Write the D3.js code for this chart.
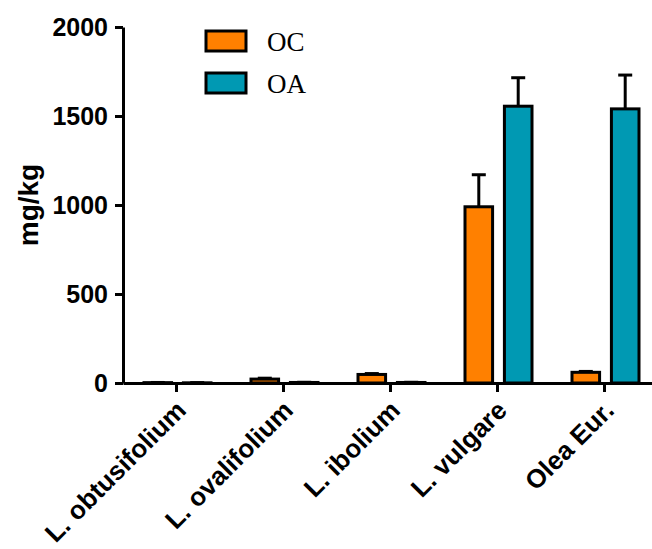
<!DOCTYPE html>
<html>
<head>
<meta charset="utf-8">
<script src="https://cdn.jsdelivr.net/npm/d3@7"></script>
<style>
  body { margin: 0; background: #fff; }
  svg { display: block; }
</style>
</head>
<body>
<div id="chart"></div>
<script>
// data
const categories = ['L. obtusifolium', 'L. ovalifolium', 'L. ibolium', 'L. vulgare', 'Olea Eur.'];
const seriesNames = ['OC', 'OA'];
const ocValues = [2, 22, 48, 990, 60];
const ocErrors = [1, 5, 5, 180, 5];
const oaValues = [1, 3, 3, 1555, 1540];
const oaErrors = [1, 1, 1, 160, 190];
const yTicks = [0, 500, 1000, 1500, 2000];

const colors = { OC: '#FF8000', OA: '#0099B3' };

const width = 652, height = 549;
const margin = { top: 27, right: -6, bottom: 166, left: 123 };

const svg = d3.select('#chart').append('svg')
  .attr('width', width)
  .attr('height', height);

const g = svg.append('g')
  .attr('transform', `translate(${margin.left},${margin.top})`);

const innerW = width - margin.left - margin.right;
const innerH = height - margin.top - margin.bottom;

const x0 = d3.scaleBand().domain(categories).range([0, innerW]).paddingInner(0).paddingOuter(0);
const x1 = d3.scaleBand().domain(seriesNames).range([21, x0.bandwidth() - 19]).paddingInner(0.3);
const y = d3.scaleLinear().domain([0, 2000]).range([innerH, 0]);

const rows = categories.map((c, i) => ({
  cat: c,
  vals: [
    { key: 'OC', v: ocValues[i], e: ocErrors[i] },
    { key: 'OA', v: oaValues[i], e: oaErrors[i] }
  ]
}));

const groups = g.selectAll('.grp').data(rows).enter().append('g')
  .attr('transform', d => `translate(${x0(d.cat)},0)`);

// error bars (drawn first, bar covers lower half)
groups.selectAll('.err').data(d => d.vals).enter().append('g').each(function(d) {
  const cx = x1(d.key) + x1.bandwidth() / 2;
  const el = d3.select(this);
  el.append('line')
    .attr('x1', cx).attr('x2', cx)
    .attr('y1', y(d.v)).attr('y2', y(d.v + d.e))
    .attr('stroke', '#000').attr('stroke-width', 3);
  el.append('line')
    .attr('x1', cx - 7).attr('x2', cx + 7)
    .attr('y1', y(d.v + d.e)).attr('y2', y(d.v + d.e))
    .attr('stroke', '#000').attr('stroke-width', 3);
});

groups.selectAll('.bar').data(d => d.vals).enter().append('rect')
  .attr('x', d => x1(d.key))
  .attr('width', x1.bandwidth())
  .attr('y', d => y(d.v))
  .attr('height', d => innerH - y(d.v))
  .attr('fill', d => colors[d.key])
  .attr('stroke', '#000')
  .attr('stroke-width', 3);

const sans = 'Liberation Sans, Arial, sans-serif';

// y axis
const yAxis = g.append('g')
  .call(d3.axisLeft(y).tickValues(yTicks).tickFormat(d3.format('d')).tickSize(8).tickSizeOuter(0));
yAxis.select('.domain').attr('stroke-width', 3);
yAxis.selectAll('.tick line').attr('stroke-width', 3);
yAxis.selectAll('.tick text')
  .style('font-family', sans)
  .style('font-weight', 'bold')
  .style('font-size', '25px')
  .attr('fill', '#000')
  .attr('x', -15);

// x axis
const xAxis = g.append('g')
  .attr('transform', `translate(0,${innerH})`)
  .call(d3.axisBottom(x0).tickSize(9).tickSizeOuter(0));
xAxis.select('.domain').attr('stroke-width', 3);
xAxis.selectAll('.tick line').attr('stroke-width', 3);
xAxis.selectAll('.tick text')
  .style('font-family', sans)
  .style('font-weight', 'bold')
  .style('font-size', '26px')
  .attr('fill', '#000')
  .attr('text-anchor', 'end')
  .attr('y', 0).attr('dy', 0)
  .attr('transform', 'translate(11,29) rotate(-45)');

// y label
svg.append('text')
  .attr('transform', `translate(38,${margin.top + innerH / 2}) rotate(-90)`)
  .attr('text-anchor', 'middle')
  .style('font-family', sans)
  .style('font-weight', 'bold')
  .style('font-size', '28px')
  .text('mg/kg');

// legend
const legend = svg.append('g').attr('transform', 'translate(206,31)');
seriesNames.forEach((s, i) => {
  const row = legend.append('g').attr('transform', `translate(0,${i * 42})`);
  row.append('rect')
    .attr('width', 40).attr('height', 20)
    .attr('fill', colors[s]).attr('stroke', '#000').attr('stroke-width', 3);
  row.append('text')
    .attr('x', 61).attr('y', 20)
    .style('font-family', 'Liberation Serif, Times New Roman, serif')
    .style('font-size', '27px')
    .text(s);
});
</script>
</body>
</html>
